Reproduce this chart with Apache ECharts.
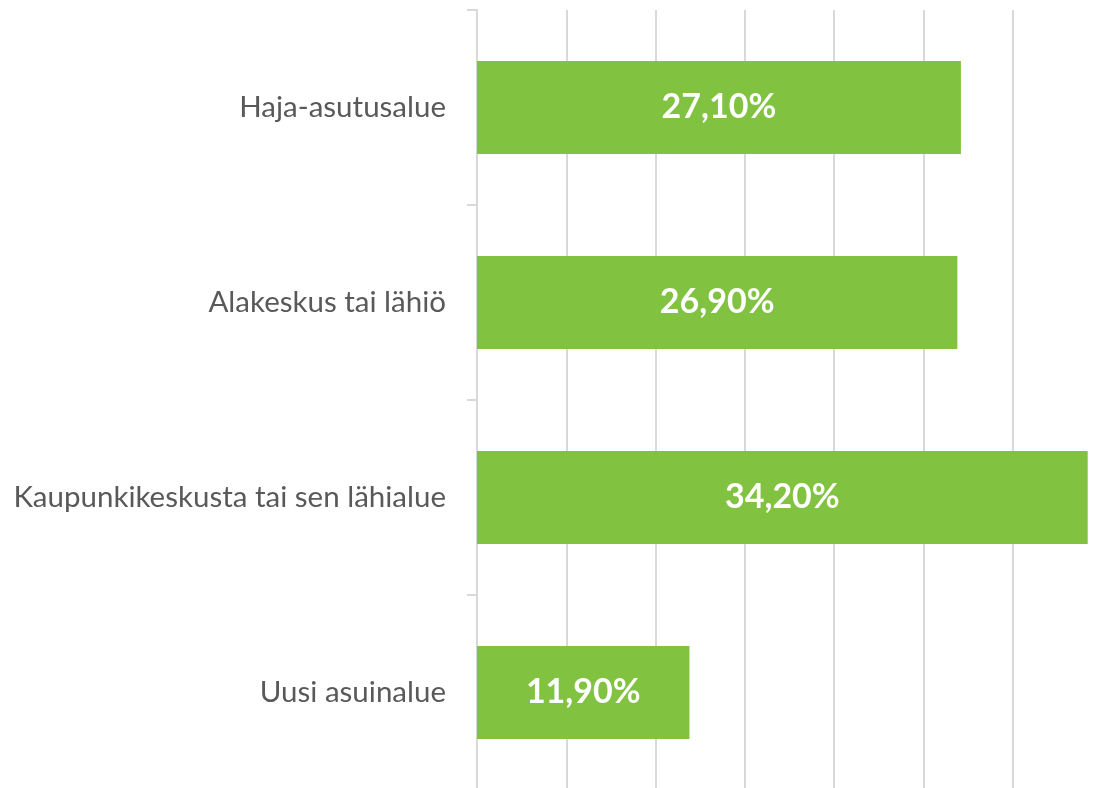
<!DOCTYPE html>
<html>
<head>
<meta charset="utf-8">
<script src="https://cdn.jsdelivr.net/npm/echarts@6/dist/echarts.min.js"></script>
<style>
  html, body { margin: 0; padding: 0; background: #fff; }
  #chart { width: 1094px; height: 788px; }
</style>
</head>
<body>
<div id="chart"></div>
<script>
const categories = ['Haja-asutusalue', 'Alakeskus tai lähiö', 'Kaupunkikeskusta tai sen lähialue', 'Uusi asuinalue'];
const values = [27.1, 26.9, 34.2, 11.9];

let myChart = echarts.init(document.getElementById('chart'));
let option = {
  animation: false,
  grid: {
    left: 477,
    top: 10,
    right: -8,
    bottom: -2,
    outerBoundsMode: 'none'
  },
  xAxis: {
    type: 'value',
    min: 0,
    max: 35,
    interval: 5,
    axisLabel: { show: false },
    axisLine: { show: false },
    axisTick: { show: false },
    splitLine: { show: true, lineStyle: { color: '#d9d9d9', width: 2 } }
  },
  yAxis: {
    type: 'category',
    inverse: true,
    data: categories,
    axisLine: { show: true, onZero: false, lineStyle: { color: '#d9d9d9', width: 2 } },
    axisTick: { show: true, length: 10, lineStyle: { color: '#d9d9d9', width: 2 } },
    axisLabel: {
      margin: 31,
      color: '#595959',
      fontSize: 29.5,
      fontFamily: 'Lato'
    }
  },
  series: [
    {
      type: 'bar',
      data: values,
      barWidth: 93,
      itemStyle: { color: '#81c341' },
      label: {
        show: true,
        position: 'inside',
        color: '#fff',
        fontSize: 34,
        fontWeight: 'bold',
        fontFamily: 'Lato',
        formatter: p => p.value.toFixed(2).replace('.', ',') + '%'
      }
    }
  ]
};
myChart.setOption(option);
</script>
</body>
</html>
